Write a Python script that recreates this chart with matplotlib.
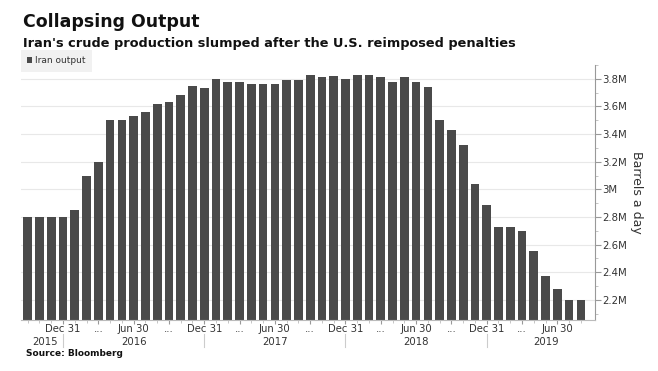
import numpy as np
import matplotlib.pyplot as plt
import matplotlib.transforms as mtransforms
from matplotlib.ticker import FuncFormatter, MultipleLocator

# Iran crude output, million barrels a day, monthly Sep 2015 - Aug 2019
months = ['2015-09', '2015-10', '2015-11', '2015-12',
          '2016-01', '2016-02', '2016-03', '2016-04', '2016-05', '2016-06',
          '2016-07', '2016-08', '2016-09', '2016-10', '2016-11', '2016-12',
          '2017-01', '2017-02', '2017-03', '2017-04', '2017-05', '2017-06',
          '2017-07', '2017-08', '2017-09', '2017-10', '2017-11', '2017-12',
          '2018-01', '2018-02', '2018-03', '2018-04', '2018-05', '2018-06',
          '2018-07', '2018-08', '2018-09', '2018-10', '2018-11', '2018-12',
          '2019-01', '2019-02', '2019-03', '2019-04', '2019-05', '2019-06',
          '2019-07', '2019-08']
output = [2.80, 2.80, 2.80, 2.80, 2.85, 3.10, 3.20, 3.50, 3.50, 3.53,
          3.56, 3.62, 3.63, 3.68, 3.75, 3.73, 3.80, 3.78, 3.78, 3.76,
          3.76, 3.76, 3.79, 3.79, 3.83, 3.81, 3.82, 3.80, 3.83, 3.83,
          3.81, 3.78, 3.81, 3.78, 3.74, 3.50, 3.43, 3.32, 3.04, 2.89,
          2.73, 2.73, 2.70, 2.55, 2.37, 2.28, 2.20, 2.20]

tick_months = ['2015-12', '2016-03', '2016-06', '2016-09', '2016-12',
               '2017-03', '2017-06', '2017-09', '2017-12', '2018-03',
               '2018-06', '2018-09', '2018-12', '2019-03', '2019-06']
tick_labels = ['Dec 31', '...', 'Jun 30', '...', 'Dec 31', '...', 'Jun 30', '...',
               'Dec 31', '...', 'Jun 30', '...', 'Dec 31', '...', 'Jun 30']
years = ['2015', '2016', '2017', '2018', '2019']
year_centers = [1.5, 9, 21, 33, 44]
year_breaks = ['2015-12', '2016-12', '2017-12', '2018-12']

bar_color = '#4a4a4a'
text_color = '#333333'

fig = plt.figure(figsize=(6.58, 3.71), dpi=100)
ax = fig.add_axes([21 / 658, 51 / 371, 574 / 658, 255 / 371])

x = np.arange(len(months))
ax.bar(x, output, width=0.74, color=bar_color, zorder=2, label='Iran output')

ax.set_xlim(-0.57, 48.2)
ax.set_ylim(2.054, 3.9)

# right-hand value axis
ax.yaxis.tick_right()
ax.yaxis.set_label_position('right')
ax.set_yticks(np.arange(2.2, 3.81, 0.2))
ax.yaxis.set_minor_locator(MultipleLocator(0.1))
ax.yaxis.set_major_formatter(FuncFormatter(lambda v, p: f'{v:g}M'))
ax.tick_params(axis='y', which='major', length=4, color='#999999', labelsize=7.3,
               labelcolor=text_color, pad=1)
ax.tick_params(axis='y', which='minor', length=2, color='#bbbbbb')
ax.set_ylabel('Barrels a day', rotation=-90, labelpad=12, fontsize=9, color=text_color)
ax.grid(axis='y', color='#e8e8e8', linewidth=0.8, zorder=0)

for side in ['top', 'left']:
    ax.spines[side].set_visible(False)
ax.spines['right'].set_color('#999999')
ax.spines['bottom'].set_color('#bbbbbb')

# time axis: quarter labels, then years underneath
ax.set_xticks([months.index(m) for m in tick_months])
ax.set_xticklabels(tick_labels)
ax.set_xticks(x, minor=True)
ax.tick_params(axis='x', which='major', length=3, color='#999999', labelsize=7.3,
               labelcolor=text_color, pad=0)
ax.tick_params(axis='x', which='minor', length=2, color='#bbbbbb')

trans = mtransforms.blended_transform_factory(ax.transData, ax.transAxes)
for yr, c in zip(years, year_centers):
    ax.text(c, -0.065, yr, transform=trans, ha='center', va='top', fontsize=7.3,
            color=text_color)
for m in year_breaks:
    ax.plot([months.index(m)] * 2, [-0.055, -0.105], transform=trans, color='#cccccc',
            linewidth=0.8, clip_on=False)

leg = ax.legend(loc='upper left', bbox_to_anchor=(0.004, 1.048), frameon=True, fontsize=6.5,
                handlelength=0.6, handleheight=0.6, handletextpad=0.3, borderpad=0.4,
                borderaxespad=0)
leg.get_frame().set_facecolor('#eeeeee')
leg.get_frame().set_edgecolor('none')
leg.get_frame().set_boxstyle('square')
for t in leg.get_texts():
    t.set_color(text_color)

fig.text(23 / 658, 1 - 22 / 371, 'Collapsing Output', fontsize=12.5, fontweight='bold',
         va='center', ha='left', color='#111111')
fig.text(23 / 658, 1 - 43 / 371, "Iran's crude production slumped after the U.S. reimposed penalties",
         fontsize=9.3, fontweight='bold', va='center', ha='left', color='#111111')
fig.text(26 / 658, 1 - 353 / 371, 'Source: Bloomberg', fontsize=6.5, fontweight='bold',
         va='center', ha='left', color='#111111')

fig.savefig('out.png', dpi=100)
